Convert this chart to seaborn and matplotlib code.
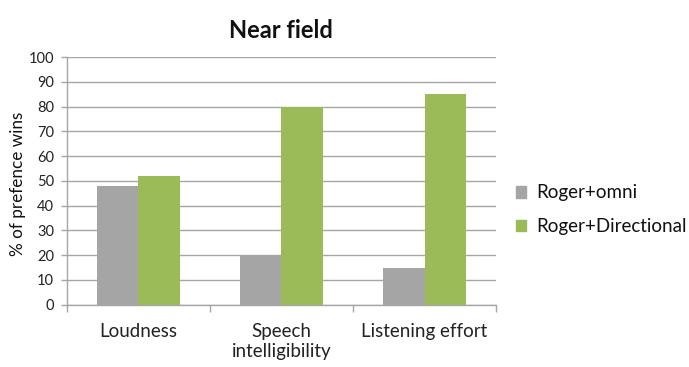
import matplotlib
matplotlib.use("Agg")
import matplotlib.pyplot as plt
import matplotlib.patches as mpatches
import seaborn as sns
import pandas as pd

categories = ["Loudness", "Speech\nintelligibility", "Listening effort"]
series_names = ["Roger+omni", "Roger+Directional"]
omni_values = [48, 20, 15]
directional_values = [52, 80, 85]
y_ticks = list(range(0, 101, 10))
colors = ["#A5A5A5", "#9BBB59"]

df = pd.DataFrame({
    "category": categories * 2,
    "series": [series_names[0]] * 3 + [series_names[1]] * 3,
    "value": omni_values + directional_values,
})

sns.set_style("white")
plt.rcParams["font.family"] = ["Lato", "DejaVu Sans"]

fig = plt.figure(figsize=(6.89, 3.67), dpi=100)
ax = fig.add_axes([0.0968, 0.1698, 0.6232, 0.6742])

sns.barplot(data=df, x="category", y="value", hue="series", order=categories,
            hue_order=series_names, palette=colors, width=0.58, gap=0,
            linewidth=0, saturation=1, ax=ax, legend=False)

ax.set_xlim(-0.5, 2.5)
ax.set_ylim(0, 100)
ax.set_yticks(y_ticks)
ax.yaxis.grid(True, color="#A6A6A6", linewidth=1.0)
ax.set_axisbelow(True)
for s in ["top", "right"]:
    ax.spines[s].set_visible(False)
for s in ["left", "bottom"]:
    ax.spines[s].set_color("#A6A6A6")
    ax.spines[s].set_linewidth(1.0)

ax.tick_params(axis="y", direction="out", length=4, width=1, color="#A6A6A6",
               labelsize=10.5, pad=5, left=True, labelcolor="#222222")
ax.set_xticks([-0.5, 0.5, 1.5, 2.5], minor=True)
ax.tick_params(axis="x", which="minor", direction="out", length=5, width=1,
               color="#A6A6A6", bottom=True)
ax.tick_params(axis="x", which="major", length=0, labelsize=13.5, pad=13,
               labelcolor="#222222")
ax.set_xlabel("")
ax.set_ylabel("% of prefence wins", fontsize=12.3, color="#111111")
ax.yaxis.set_label_coords(-0.095, 0.49)

ax.set_title("Near field", fontsize=17, fontweight="bold", pad=14, color="#111111")

handles = [mpatches.Patch(color=c, label=n) for c, n in zip(colors, series_names)]
fig.legend(handles=handles, loc="center left", bbox_to_anchor=(0.749, 0.428),
           frameon=False, fontsize=13.5, handlelength=0.55, handleheight=0.55,
           handletextpad=0.55, labelspacing=0.9, labelcolor="#111111",
           borderaxespad=0, borderpad=0)

fig.savefig("out.png", dpi=100)
